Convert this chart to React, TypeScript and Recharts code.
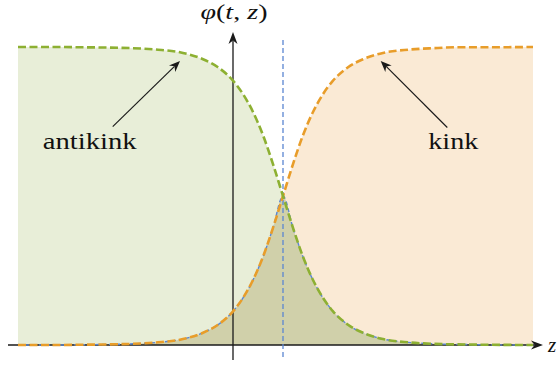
import React from 'react';
import { ComposedChart, Area, Line, XAxis, YAxis, ReferenceLine } from 'recharts';

// sample positions along z and the profile heights
const zs = [-4.3, -3.5, -3, -2.5, -2, -1.5, -1, -0.6, -0.3, 0, 0.2, 0.4, 0.6, 0.8, 1, 1.2, 1.4, 1.6, 1.8, 2, 2.3, 2.6, 3, 3.5, 4, 4.5, 5, 6];
const kink = [0, 0, 0.001, 0.002, 0.004, 0.009, 0.02, 0.041, 0.068, 0.113, 0.158, 0.218, 0.296, 0.393, 0.5, 0.607, 0.704, 0.782, 0.842, 0.887, 0.932, 0.959, 0.98, 0.991, 0.996, 0.999, 0.999, 1];
const antikink = [1, 1, 0.999, 0.998, 0.996, 0.991, 0.98, 0.959, 0.932, 0.887, 0.842, 0.782, 0.704, 0.607, 0.5, 0.393, 0.296, 0.218, 0.158, 0.113, 0.068, 0.041, 0.02, 0.009, 0.004, 0.002, 0.001, 0];

const center = 1;
const antikinkArrow = [{ x: -2.406, y: 0.733 }, { x: -1.06, y: 0.953 }];
const kinkArrow = [{ x: 4.286, y: 0.73 }, { x: 2.954, y: 0.953 }];

const data = zs.map((z, i) => ({
  z,
  kink: kink[i],
  antikink: antikink[i],
  overlap: Math.min(kink[i], antikink[i]),
}));

const GREEN = '#8db032';
const ORANGE = '#e89d2a';
const BLUE = '#5a86d2';
const serif = '"Liberation Serif", "DejaVu Serif", serif';

function Arrow(props: any) {
  const { x1, y1, x2, y2, text, dx = 0, dy = 0, anchor = 'middle', width = 1.3, len = 12, half = 4.5, textLength, math } = props;
  const a = Math.atan2(y2 - y1, x2 - x1);
  const c = Math.cos(a), s = Math.sin(a);
  const bx = x2 - len * c, by = y2 - len * s;
  const nx = x2 - len * 0.7 * c, ny = y2 - len * 0.7 * s;
  const head = [
    [x2, y2],
    [bx - half * s, by + half * c],
    [nx, ny],
    [bx + half * s, by - half * c],
  ].map(p => p.join(',')).join(' ');
  return (
    <g>
      <line x1={x1} y1={y1} x2={nx} y2={ny} stroke="#1a1a1a" strokeWidth={width} />
      <polygon points={head} fill="#1a1a1a" />
      {text && (
        <text
          x={x1 + dx}
          y={y1 + dy}
          textAnchor={anchor}
          fontFamily={serif}
          fontSize={math ? 21 : 24}
          fontStyle={math ? 'italic' : 'normal'}
          fill="#111"
          textLength={textLength}
          lengthAdjust="spacingAndGlyphs"
        >
          {text}
        </text>
      )}
    </g>
  );
}

export default function App() {
  return (
    <div style={{ position: 'absolute', left: 0, top: 0, background: '#fff' }}>
      <ComposedChart width={558} height={370} data={data} margin={{ top: 32, right: 15, bottom: 10, left: 8 }}>
        <XAxis type="number" dataKey="z" domain={[-4.5, 6.2]} hide allowDataOverflow />
        <YAxis type="number" domain={[-0.0503, 1.0503]} hide allowDataOverflow />
        <Area type="monotone" dataKey="antikink" stroke="none" fill="#e8eed8" fillOpacity={1} baseValue={0} isAnimationActive={false} />
        <Area type="monotone" dataKey="kink" stroke="none" fill="#faead5" fillOpacity={1} baseValue={0} isAnimationActive={false} />
        <Area type="monotone" dataKey="overlap" stroke="none" fill="#d0d0aa" fillOpacity={1} baseValue={0} isAnimationActive={false} />
        <ReferenceLine
          segment={[{ x: -4.5, y: 0 }, { x: 6.2, y: 0 }]}
          shape={(p: any) => <Arrow {...p} text="z" math anchor="start" dx={540} dy={7} />}
        />
        <ReferenceLine
          segment={[{ x: 0, y: -0.0503 }, { x: 0, y: 1.0503 }]}
          shape={(p: any) => <Arrow {...p} />}
        />
        <ReferenceLine
          segment={[{ x: center, y: 1.0235 }, { x: center, y: -0.0503 }]}
          stroke={BLUE}
          strokeWidth={1.3}
          strokeDasharray="5 3"
        />
        <Line type="monotone" dataKey="overlap" stroke={BLUE} strokeWidth={1.4} strokeDasharray="4 3" dot={false} isAnimationActive={false} />
        <Line type="monotone" dataKey="kink" stroke={ORANGE} strokeWidth={2.6} strokeDasharray="8 3.5" dot={false} isAnimationActive={false} />
        <Line type="monotone" dataKey="antikink" stroke={GREEN} strokeWidth={2.6} strokeDasharray="8 3.5" dot={false} isAnimationActive={false} />
        <ReferenceLine
          segment={antikinkArrow}
          shape={(p: any) => <Arrow {...p} width={1.2} len={11} half={4.5} text="antikink" dx={-23} dy={22} textLength={94} />}
        />
        <ReferenceLine
          segment={kinkArrow}
          shape={(p: any) => <Arrow {...p} width={1.2} len={11} half={4.5} text="kink" dx={6} dy={22} textLength={50} />}
        />
        <ReferenceLine
          segment={[{ x: 0, y: 1.0503 }, { x: 0, y: 1.0503 }]}
          shape={(p: any) => (
            <text x={p.x1 + 1} y={p.y1 - 13} textAnchor="middle" fontFamily={serif} fontSize={22} fill="#111" textLength={67} lengthAdjust="spacingAndGlyphs">
              <tspan fontStyle="italic">φ</tspan>(<tspan fontStyle="italic">t</tspan>, <tspan fontStyle="italic">z</tspan>)
            </text>
          )}
        />
      </ComposedChart>
    </div>
  );
}
